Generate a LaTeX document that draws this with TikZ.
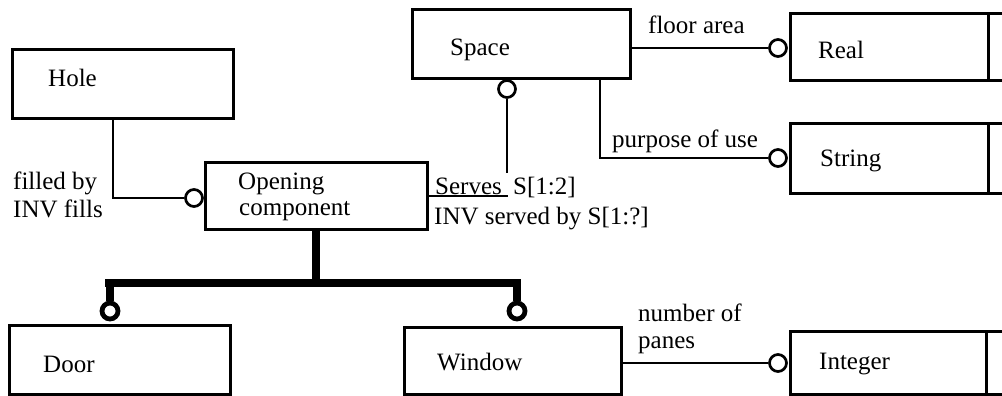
\documentclass[tikz,border=0pt]{standalone}
\usepackage{fontspec}
\setmainfont{Liberation Serif}
\begin{document}
\begin{tikzpicture}[x=1pt,y=-1pt,
  box/.style={draw, rectangle, line width=3pt, inner sep=0pt},
  conn/.style={line width=2.8pt},
  ocirc/.style={circle, draw, fill=white, line width=2.7pt, minimum size=17pt, inner sep=0pt},
  tcirc/.style={circle, draw, fill=white, line width=4.8pt, minimum size=16pt, inner sep=0pt},
  tline/.style={line width=8pt, line join=miter},
  lbl/.style={inner sep=0pt, anchor=base west, font=\fontsize{25}{26}\selectfont}]
\useasboundingbox (0,0) rectangle (1002,396);
\clip (0,0) rectangle (1002,396);
% entity boxes
\node[box, minimum width=221pt, minimum height=68pt] (hole) at (122.5,84) {};
\node[box, minimum width=222pt, minimum height=67pt] (oc) at (316,195.5) {};
\node[box, minimum width=218pt, minimum height=69pt] (space) at (521,44.5) {};
\node[box, minimum width=221pt, minimum height=69pt] (door) at (119.5,359.5) {};
\node[box, minimum width=217pt, minimum height=67pt] (window) at (512.5,360.5) {};
% simple types (cut at the right edge)
\node[box, minimum width=220pt, minimum height=67pt] (real) at (900,47.5) {};
\node[box, minimum width=220pt, minimum height=70pt] (string) at (900,158) {};
\node[box, minimum width=220pt, minimum height=63pt] (integer) at (900,362.5) {};
\draw[box] (988,14) -- (988,81);
\draw[box] (988,123) -- (988,193);
\draw[box] (986,331) -- (986,394);
% texts
\node[lbl] (tHole) at (48,87) {Hole};
\node[lbl] (tSpace) at (450,56) {Space};
\node[lbl] (tReal) at (818,59) {Real};
\node[lbl] (tString) at (820,166) {String};
\node[lbl] (tInteger) at (819,369) {Integer};
\node[lbl] (tDoor) at (43,372) {Door};
\node[lbl] (tWindow) at (437,370) {Window};
\node[lbl] (tOp1) at (238,189) {Opening};
\node[lbl] (tOp2) at (239,215) {component};
% attribute circles
\node[ocirc] (c1) at (194,198) {};
\node[ocirc] (csp) at (507,89) {};
\node[ocirc] (cr) at (778,48) {};
\node[ocirc] (cs) at (778,158) {};
\node[ocirc] (ci) at (778,363) {};
% free ends
\coordinate (h1) at (113,118);
\coordinate (sv1) at (508,196);
\coordinate (sv2) at (507,173);
\coordinate (sp2) at (600,79);
\coordinate (bl) at (105,283);
% relationships
\draw[conn] (h1) |- (c1.west);
\draw[conn] (oc.east |- sv1) -- (sv1);
\draw[conn] (csp.south) -- (sv2);
\draw[conn] (space.east |- cr) -- (cr.west);
\draw[conn] (sp2) |- (cs.west);
\draw[conn] (window.east |- ci) -- (ci.west);
% supertype tree
\node[tcirc] (cd) at (110,311) {};
\node[tcirc] (cw) at (517,311) {};
\draw[tline] (oc.south) -- (oc.south |- bl);
\draw[tline] (cd.north) -- (cd.north |- bl) -- (bl) -- (cw.north |- bl) -- (cw.north);
% relationship labels
\node[lbl] (lf1) at (13,189) {filled by};
\node[lbl] (lf2) at (13,217) {INV fills};
\node[lbl] (ls1) at (435,194) {Serves};
\node[lbl] (ls2) at (513,194) {S[1:2]};
\node[lbl] (ls3) at (434,224) {INV served by S[1:?]};
\node[lbl] (lfa) at (648,34) {floor area};
\node[lbl] (lpu) at (612,147) {purpose of use};
\node[lbl] (lnp1) at (638,321) {number of};
\node[lbl] (lnp2) at (638,348) {panes};
\end{tikzpicture}
\end{document}
